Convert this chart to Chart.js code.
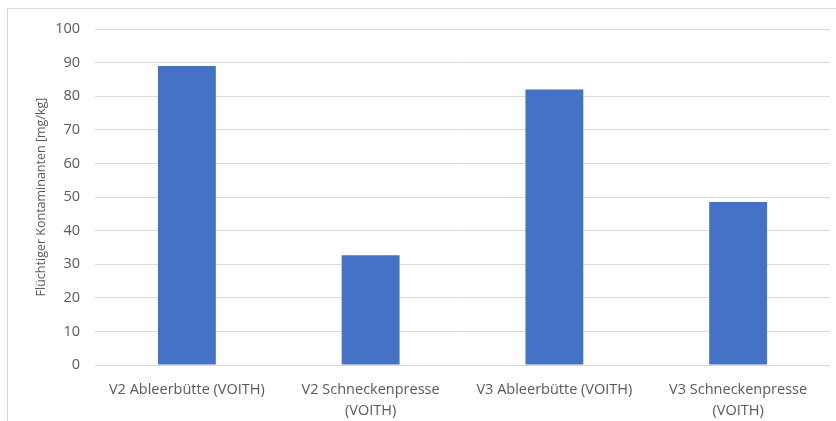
<!DOCTYPE html>
<html>
<head>
<meta charset="utf-8">
<script src="https://cdn.jsdelivr.net/npm/chart.js@4"></script>
<style>
  html, body { margin: 0; padding: 0; background: #fff; }
  #wrap { position: relative; width: 836px; height: 421px; }
</style>
</head>
<body>
<div id="wrap"><canvas id="barchart" width="836" height="421"></canvas></div>
<script>
// Kategorien und Messwerte
const categories = [
  'V2 Ableerbütte (VOITH)',
  ['V2 Schneckenpresse', '(VOITH)'],
  'V3 Ableerbütte (VOITH)',
  ['V3 Schneckenpresse', '(VOITH)']
];
const values = [89, 32.7, 82, 48.5];
const yTicks = [0, 10, 20, 30, 40, 50, 60, 70, 80, 90, 100];
const yTitle = 'Flüchtiger Kontaminanten [mg/kg]';

const grey = '#595959';
const gridGrey = '#d9d9d9';

// heller Rahmen um das Diagramm (oben und links)
const frame = {
  id: 'frame',
  beforeDraw(chart) {
    const c = chart.ctx;
    c.save();
    c.strokeStyle = gridGrey;
    c.lineWidth = 1;
    c.beginPath();
    c.moveTo(7.5, 421);
    c.lineTo(7.5, 8.5);
    c.lineTo(836, 8.5);
    c.stroke();
    c.restore();
  }
};

const ctx = document.getElementById('barchart').getContext('2d');
const myChart = new Chart(ctx, {
  type: 'bar',
  data: {
    labels: categories,
    datasets: [{
      data: values,
      backgroundColor: '#4472c4',
      borderWidth: 0,
      categoryPercentage: 1,
      barPercentage: 0.315
    }]
  },
  options: {
    responsive: false,
    animation: false,
    layout: { padding: { top: 29, right: 6, bottom: 0, left: 0 } },
    scales: {
      x: {
        grid: { display: false },
        border: { display: false },
        ticks: {
          color: grey,
          font: { family: 'Open Sans', size: 14.5, lineHeight: 1.4 },
          padding: 7,
          maxRotation: 0,
          autoSkip: false
        },
        afterFit(scale) { scale.height = 56; }
      },
      y: {
        min: 0,
        max: 100,
        afterBuildTicks(scale) { scale.ticks = yTicks.map(v => ({ value: v })); },
        grid: { color: gridGrey, lineWidth: 1, drawTicks: false },
        border: { display: false },
        ticks: {
          color: grey,
          font: { family: 'Open Sans', size: 14.5 },
          padding: 15
        },
        title: {
          display: true,
          text: yTitle,
          color: grey,
          font: { family: 'Open Sans', size: 12.5 },
          padding: { top: 34, bottom: 0 }
        },
        afterFit(scale) { scale.width = 95; }
      }
    },
    plugins: {
      legend: { display: false },
      tooltip: { enabled: false }
    }
  },
  plugins: [frame]
});
</script>
</body>
</html>
